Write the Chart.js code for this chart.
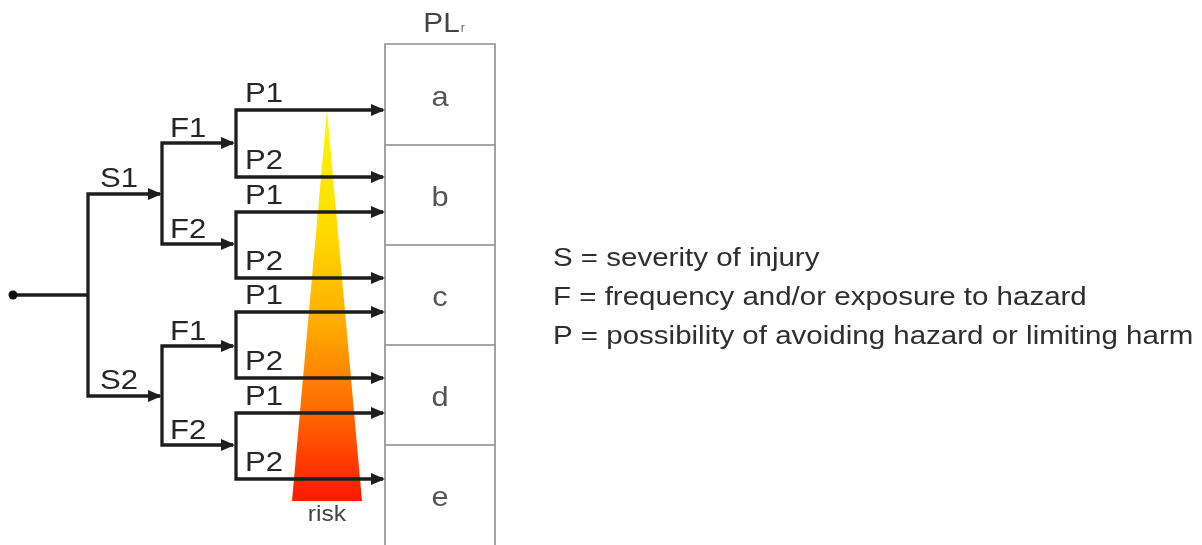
<!DOCTYPE html>
<html>
<head>
<meta charset="utf-8">
<script src="https://cdn.jsdelivr.net/npm/chart.js@4.4.1/dist/chart.umd.min.js"></script>
<style>
  html, body { margin: 0; padding: 0; background: #ffffff; }
  #wrap { width: 1202px; height: 545px; }
</style>
</head>
<body>
<div id="wrap"><canvas id="c" width="1202" height="545"></canvas></div>
<script>
// ---------- data (diagram coordinates) ----------
const rootPoint = [13, 295];
const stageSplitX = [88, 162, 236];      // x of vertical splitter for S, F, P
const stageTipX = [160, 233, 383];       // x where each stage's arrows end
const sLabels = ['S1', 'S2'];
const sY = [194, 396];
const fLabels = ['F1', 'F2', 'F1', 'F2'];
const fY = [143, 244, 346, 445];
const fParent = [0, 0, 1, 1];
const pLabels = ['P1', 'P2', 'P1', 'P2', 'P1', 'P2', 'P1', 'P2'];
const pY = [110, 177, 212, 278, 312, 378, 413, 479];
const pParent = [0, 0, 1, 1, 2, 2, 3, 3];
const plrLabels = ['a', 'b', 'c', 'd', 'e'];
const plrEdges = [44, 145, 245, 345, 445, 545];
const plrX = [385, 495];
const riskX = [327, 362, 292];
const riskY = [110, 501, 501];
const legendLines = [
  'S = severity of injury',
  'F = frequency and/or exposure to hazard',
  'P = possibility of avoiding hazard or limiting harm'
];
const legendX = 553;
const legendY = [266, 305, 344];

// ---------- datasets ----------
const LINE = '#1e1e1e';
const LW = 3.3;
const datasets = [];

function pathDataset(points, color, width, order) {
  return {
    type: 'line',
    data: points.map(p => ({ x: p[0], y: p[1] })),
    borderColor: color,
    borderWidth: width,
    pointRadius: 0,
    fill: false,
    tension: 0,
    borderJoinStyle: 'miter',
    borderCapStyle: 'butt',
    order: order
  };
}

// root line
datasets.push(pathDataset([[rootPoint[0], rootPoint[1]], [stageSplitX[0], rootPoint[1]]], LINE, LW, 1));
// S branches
sY.forEach(y => {
  datasets.push(pathDataset([[stageSplitX[0], rootPoint[1]], [stageSplitX[0], y], [stageTipX[0], y]], LINE, LW, 1));
});
// F branches
fY.forEach((y, i) => {
  const py = sY[fParent[i]];
  datasets.push(pathDataset([[stageSplitX[1], py], [stageSplitX[1], y], [stageTipX[1], y]], LINE, LW, 1));
});
// P branches
pY.forEach((y, i) => {
  const py = fY[pParent[i]];
  datasets.push(pathDataset([[stageSplitX[2], py], [stageSplitX[2], y], [stageTipX[2], y]], LINE, LW, 1));
});
// root dot
datasets.push({
  type: 'line',
  data: [{ x: rootPoint[0], y: rootPoint[1] }],
  showLine: false,
  pointRadius: 4.5,
  pointBackgroundColor: '#111',
  pointBorderWidth: 0,
  order: 0
});
// PLr box outline
datasets.push(pathDataset([[plrX[0], plrEdges[5]], [plrX[0], plrEdges[0]], [plrX[1], plrEdges[0]], [plrX[1], plrEdges[5]]], '#8d8d8d', 1.6, 3));
plrEdges.slice(1, 5).forEach(e => {
  datasets.push(pathDataset([[plrX[0], e], [plrX[1], e]], '#8d8d8d', 1.6, 3));
});
// risk triangle
datasets.push({
  type: 'line',
  data: [
    { x: riskX[0], y: riskY[0] },
    { x: riskX[1], y: riskY[1] },
    { x: riskX[2], y: riskY[2] },
    { x: riskX[0], y: riskY[0] }
  ],
  borderWidth: 0,
  borderColor: 'rgba(0,0,0,0)',
  pointRadius: 0,
  tension: 0,
  fill: 'shape',
  order: 10,
  backgroundColor: (ctx) => {
    const chart = ctx.chart;
    if (!chart.chartArea) return '#ff9900';
    const ys = chart.scales.y;
    const g = chart.ctx.createLinearGradient(0, ys.getPixelForValue(riskY[0]), 0, ys.getPixelForValue(riskY[1]));
    g.addColorStop(0.0, '#fff800');
    g.addColorStop(0.3, '#ffdc00');
    g.addColorStop(0.55, '#ffab00');
    g.addColorStop(0.78, '#ff6600');
    g.addColorStop(1.0, '#ff1800');
    return g;
  }
});

// ---------- plugin: arrowheads and text ----------
function sText(c, txt, x, y, font, color, align, sx) {
  c.save();
  c.font = font;
  c.fillStyle = color;
  c.textBaseline = 'alphabetic';
  const w = c.measureText(txt).width * sx;
  let x0 = x;
  if (align === 'center') x0 = x - w / 2;
  else if (align === 'right') x0 = x - w;
  c.translate(x0, y);
  c.scale(sx, 1);
  c.textAlign = 'left';
  c.fillText(txt, 0, 0);
  c.restore();
  return w;
}

const decor = {
  id: 'decor',
  afterDatasetsDraw(chart) {
    const c = chart.ctx;
    const X = v => chart.scales.x.getPixelForValue(v);
    const Y = v => chart.scales.y.getPixelForValue(v);

    // arrowheads
    function arrow(tx, ty) {
      const px = X(tx) + 2, py = Y(ty);
      c.save();
      c.fillStyle = LINE;
      c.beginPath();
      c.moveTo(px, py);
      c.lineTo(px - 14, py - 6);
      c.lineTo(px - 14, py + 6);
      c.closePath();
      c.fill();
      c.restore();
    }
    sY.forEach(y => arrow(stageTipX[0], y));
    fY.forEach(y => arrow(stageTipX[1], y));
    pY.forEach(y => arrow(stageTipX[2], y));

    const TF = '27px "Liberation Sans", Arial, sans-serif';
    const TC = '#262626';
    const SX = 1.15;
    sLabels.forEach((t, i) => sText(c, t, X(stageSplitX[0]) + 12, Y(sY[i]) - 7, TF, TC, 'left', SX));
    fLabels.forEach((t, i) => sText(c, t, X(stageSplitX[1]) + 8, Y(fY[i]) - 6, TF, TC, 'left', SX));
    pLabels.forEach((t, i) => sText(c, t, X(stageSplitX[2]) + 9, Y(pY[i]) - 8, TF, TC, 'left', SX));

    // PLr level labels
    const cx = (X(plrX[0]) + X(plrX[1])) / 2;
    plrLabels.forEach((t, i) => {
      const mid = (Y(plrEdges[i]) + Y(plrEdges[i + 1])) / 2;
      sText(c, t, cx, mid + 11, '28px "Liberation Sans", Arial, sans-serif', '#555', 'center', 1.1);
    });

    // PLr title with subscript
    c.save();
    c.font = '27px "Liberation Sans", Arial, sans-serif';
    const wPL = c.measureText('PL').width * 1.1;
    c.font = '12px "Liberation Sans", Arial, sans-serif';
    const wr = c.measureText('r').width;
    c.restore();
    const startX = cx + 4 - (wPL + wr + 1) / 2;
    sText(c, 'PL', startX, Y(plrEdges[0]) - 12, '27px "Liberation Sans", Arial, sans-serif', '#444', 'left', 1.1);
    sText(c, 'r', startX + wPL + 1, Y(plrEdges[0]) - 12, '12px "Liberation Sans", Arial, sans-serif', '#666', 'left', 1);

    // risk label
    sText(c, 'risk', X(riskX[0]), Y(riskY[1]) + 20, '22px "Liberation Sans", Arial, sans-serif', '#444', 'center', 1.12);

    // legend
    legendLines.forEach((t, i) => sText(c, t, X(legendX), Y(legendY[i]), '25px "Liberation Sans", Arial, sans-serif', '#2e2e2e', 'left', 1.18));
  }
};

new Chart(document.getElementById('c'), {
  type: 'line',
  data: { datasets: datasets },
  options: {
    responsive: false,
    devicePixelRatio: 1,
    animation: false,
    layout: { padding: 0, autoPadding: false },
    plugins: { legend: { display: false }, tooltip: { enabled: false } },
    scales: {
      x: { type: 'linear', min: 0, max: 1202, display: false },
      y: { type: 'linear', min: 0, max: 545, reverse: true, display: false }
    }
  },
  plugins: [decor]
});
</script>
</body>
</html>
